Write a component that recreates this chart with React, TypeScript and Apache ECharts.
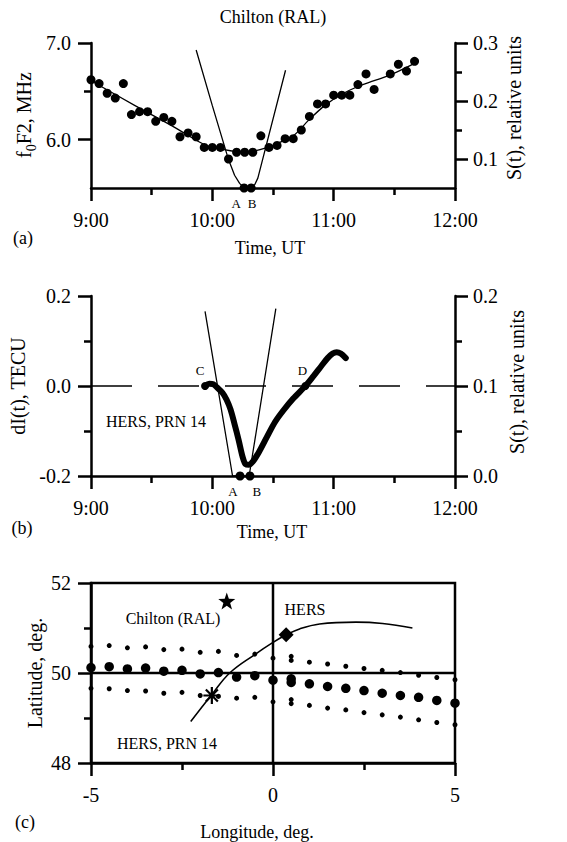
import React, { useEffect, useRef } from "react";
import * as echarts from "echarts";

const FONT = "'Liberation Serif', 'Times New Roman', serif";
const BLACK = "#000";

// ---------- Panel (a): Chilton (RAL) ionosonde; time in minutes after 09:00 UT ----------
const f0F2Minutes = [0, 4, 8, 12, 16, 20, 24, 28, 32, 36, 40, 44, 48, 52, 56, 60, 64, 68, 72, 76, 80, 84, 88, 92, 96, 100, 104, 108, 112, 116, 120, 124, 128, 132, 136, 140, 148, 152, 156, 160];
const f0F2MHz = [6.62, 6.58, 6.48, 6.43, 6.58, 6.26, 6.29, 6.29, 6.19, 6.23, 6.19, 6.03, 6.07, 6.03, 5.92, 5.92, 5.92, 5.8, 5.87, 5.87, 5.87, 6.04, 5.92, 5.94, 6.01, 6.01, 6.1, 6.24, 6.37, 6.37, 6.46, 6.46, 6.46, 6.57, 6.68, 6.52, 6.68, 6.78, 6.71, 6.81];
const f0F2FitMinutes = [0, 22, 42, 56, 65, 76, 84, 92, 100, 108, 116, 124, 132, 140, 148, 160];
const f0F2FitMHz = [6.61, 6.35, 6.12, 5.95, 5.9, 5.87, 5.9, 5.96, 6.04, 6.21, 6.36, 6.47, 6.55, 6.61, 6.67, 6.79];
const sMinutesA = [52, 60, 68, 71, 73.5, 75.7, 79.2, 81, 82.5, 96.2];
const sValuesA = [0.288, 0.192, 0.099, 0.072, 0.058, 0.05, 0.05, 0.056, 0.067, 0.253];
const abMinutesA = [75.7, 79.2];
const abValuesA = [0.05, 0.05];
const abNames = ["A", "B"];

// ---------- Panel (b): HERS, PRN 14 ----------
const dIMinutes = [56.4, 58.5, 60.5, 62.5, 65, 67, 69, 71, 73, 75, 76.5, 78, 80, 83, 87, 91, 95, 100, 106, 110, 114, 117, 119.5, 121.5, 123.5, 126];
const dITECU = [0, 0.005, 0.004, -0.004, -0.015, -0.03, -0.052, -0.085, -0.12, -0.158, -0.174, -0.175, -0.168, -0.147, -0.113, -0.08, -0.055, -0.028, 0, 0.022, 0.045, 0.062, 0.072, 0.075, 0.072, 0.062];
const zeroMinutes = [0, 180];
const zeroValues = [0, 0];
const sMinutesB = [56.4, 70, 78.2, 91.4];
const sValuesB = [0.183, 0, 0, 0.186];
const abMinutesB = [73.7, 78.6];
const abValuesB = [0, 0];
const cdMinutes = [56.4, 106];
const cdValues = [0, 0];
const cdNames = ["C", "D"];

// ---------- Panel (c): map ----------
const rowLon = [-5, -4.5, -4, -3.5, -3, -2.5, -2, -1.5, -1, -0.5, 0, 0.5, 0.5, 1, 1.5, 2, 2.5, 3, 3.5, 4, 4.5, 5];
const upperLat = [50.59, 50.61, 50.56, 50.58, 50.52, 50.53, 50.46, 50.48, 50.39, 50.42, 50.33, 50.37, 50.28, 50.24, 50.2, 50.15, 50.1, 50.06, 50.01, 49.95, 49.9, 49.85];
const middleLat = [50.12, 50.14, 50.09, 50.11, 50.04, 50.06, 49.98, 50.01, 49.91, 49.94, 49.84, 49.87, 49.79, 49.76, 49.7, 49.66, 49.61, 49.55, 49.5, 49.46, 49.39, 49.33];
const lowerLat = [49.66, 49.65, 49.61, 49.6, 49.55, 49.57, 49.5, 49.48, 49.44, 49.46, 49.36, 49.41, 49.32, 49.28, 49.22, 49.18, 49.12, 49.07, 49.02, 48.96, 48.9, 48.85];
const trackLon = [-2.26, -1.68, -1.19, -0.5, 0, 0.34, 0.73, 1.28, 2.28, 3.01, 3.83];
const trackLat = [48.92, 49.52, 50.0, 50.41, 50.68, 50.84, 50.98, 51.09, 51.13, 51.1, 51.0];
const chiltonLonLat = [-1.27, 51.6];
const hersLonLat = [0.36, 50.85];
const pierceLonLat = [-1.68, 49.5];
const meridianLon = [0, 0];
const meridianLat = [48, 52];
const parallelLon = [-5, 5];
const parallelLat = [50, 50];

// ---------- tick labels ----------
const timeTickLabels = ["9:00", "10:00", "11:00", "12:00"];
const f0F2TickValues = [6, 7];
const sTickValuesA = [0.1, 0.2, 0.3];

const zip = (xs: number[], ys: number[]) => xs.map((x, i) => [x, ys[i]]);

function starPath(): string {
  let d = "";
  for (let i = 0; i < 10; i++) {
    const r = i % 2 ? 0.4 : 1;
    const a = -Math.PI / 2 + (i * Math.PI) / 5;
    d += (i ? "L" : "M") + (r * Math.cos(a)).toFixed(3) + " " + (r * Math.sin(a)).toFixed(3) + " ";
  }
  return "path://" + d + "Z";
}

function asteriskPath(): string {
  const w = 0.13;
  let d = "";
  [0, 45, 90, 135].forEach((deg) => {
    const t = (deg * Math.PI) / 180;
    const c = Math.cos(t), s = Math.sin(t);
    const pts = [[-1, -w], [1, -w], [1, w], [-1, w]].map(([x, y]) => [x * c - y * s, x * s + y * c]);
    d += pts.map((p, i) => (i ? "L" : "M") + p[0].toFixed(3) + " " + p[1].toFixed(3)).join(" ") + " Z ";
  });
  return "path://" + d;
}

const axisLine = { show: true, onZero: false, lineStyle: { color: BLACK, width: 2.5 } };
const tick = (len: number) => ({ show: true, length: len, lineStyle: { color: BLACK, width: 2.5 } });
const minor = { show: true, splitNumber: 2, length: 7, lineStyle: { color: BLACK, width: 2.5 } };
const lbl = { color: BLACK, fontSize: 20, fontFamily: FONT };
const noSplit = { show: false };
const dot = { color: BLACK, opacity: 1 };

function timeAxis(gridIndex: number) {
  return {
    type: "value", gridIndex, min: 0, max: 180, interval: 60,
    axisLine, axisTick: tick(13), minorTick: minor,
    splitLine: noSplit, minorSplitLine: noSplit,
    axisLabel: { ...lbl, margin: 22, formatter: (v: number) => timeTickLabels[Math.round(v / 60)] },
  };
}

function text(x: number, y: number, s: string, size: number, rotate = false, extra: any = {}) {
  return {
    type: "text", x, y, rotation: rotate ? Math.PI / 2 : 0, z: 100,
    style: { text: s, fill: BLACK, fontSize: size, fontFamily: FONT, align: "center", verticalAlign: "middle", ...extra },
  };
}

function buildOption(): any {
  return {
    animation: false,
    backgroundColor: "#fff",
    grid: [
      { left: 91, top: 43, width: 364, height: 145 },
      { left: 91, top: 296, width: 364, height: 180 },
      { left: 91, top: 583, width: 364, height: 180, show: true, borderColor: BLACK, borderWidth: 2.5, backgroundColor: "transparent" },
    ],
    xAxis: [
      timeAxis(0),
      timeAxis(1),
      {
        type: "value", gridIndex: 2, min: -5, max: 5, interval: 5,
        axisLine, axisTick: tick(13), minorTick: minor, splitLine: noSplit, minorSplitLine: noSplit,
        axisLabel: { ...lbl, margin: 22 },
      },
    ],
    yAxis: [
      {
        type: "value", gridIndex: 0, position: "left", min: 5.5, max: 7,
        axisLine, axisTick: { ...tick(13), customValues: f0F2TickValues }, splitLine: noSplit,
        axisLabel: { ...lbl, margin: 20, customValues: f0F2TickValues, formatter: (v: number) => v.toFixed(1) },
      },
      {
        type: "value", gridIndex: 0, position: "left", min: 5.5, max: 7,
        axisLine: { show: false }, axisTick: { ...tick(7), customValues: [6.5] }, splitLine: noSplit,
        axisLabel: { show: false },
      },
      {
        type: "value", gridIndex: 0, position: "right", min: 0.05, max: 0.3,
        axisLine, axisTick: { ...tick(13), customValues: sTickValuesA }, splitLine: noSplit,
        axisLabel: { ...lbl, margin: 18, customValues: sTickValuesA, formatter: (v: number) => v.toFixed(1) },
      },
      {
        type: "value", gridIndex: 0, position: "right", min: 0.05, max: 0.3,
        axisLine: { show: false }, axisTick: { ...tick(7), customValues: [0.15, 0.25] }, splitLine: noSplit,
        axisLabel: { show: false },
      },
      {
        type: "value", gridIndex: 1, position: "left", min: -0.2, max: 0.2, interval: 0.2,
        axisLine, axisTick: tick(13), minorTick: minor, splitLine: noSplit, minorSplitLine: noSplit,
        axisLabel: { ...lbl, margin: 20, formatter: (v: number) => v.toFixed(1) },
      },
      {
        type: "value", gridIndex: 1, position: "right", min: 0, max: 0.2, interval: 0.1,
        axisLine, axisTick: tick(13), minorTick: minor, splitLine: noSplit, minorSplitLine: noSplit,
        axisLabel: { ...lbl, margin: 18, formatter: (v: number) => v.toFixed(1) },
      },
      {
        type: "value", gridIndex: 2, position: "left", min: 48, max: 52, interval: 2,
        axisLine, axisTick: tick(13), minorTick: minor, splitLine: noSplit, minorSplitLine: noSplit,
        axisLabel: { ...lbl, margin: 20 },
      },
    ],
    series: [
      // ----- (a)
      {
        type: "line", xAxisIndex: 0, yAxisIndex: 0, data: zip(f0F2FitMinutes, f0F2FitMHz),
        showSymbol: false, smooth: 0.35, lineStyle: { color: BLACK, width: 1.3 },
      },
      {
        type: "line", xAxisIndex: 0, yAxisIndex: 2, data: zip(sMinutesA, sValuesA),
        showSymbol: false, lineStyle: { color: BLACK, width: 1.3 },
      },
      {
        type: "scatter", xAxisIndex: 0, yAxisIndex: 0, data: zip(f0F2Minutes, f0F2MHz),
        symbolSize: 9, itemStyle: dot,
      },
      {
        type: "scatter", xAxisIndex: 0, yAxisIndex: 2, clip: false, symbolSize: 9, itemStyle: dot,
        data: abMinutesA.map((m, i) => ({
          value: [m, abValuesA[i]], name: abNames[i],
          label: { offset: [i === 0 ? -8 : 1, 0] },
        })),
        label: { show: true, position: "bottom", distance: 4, formatter: "{b}", color: BLACK, fontSize: 13, fontFamily: FONT },
      },
      // ----- (b)
      {
        type: "line", xAxisIndex: 1, yAxisIndex: 4, data: zip(zeroMinutes, zeroValues),
        showSymbol: false, lineStyle: { color: BLACK, width: 1.3, type: [41, 26] },
      },
      {
        type: "line", xAxisIndex: 1, yAxisIndex: 5, data: zip(sMinutesB, sValuesB),
        showSymbol: false, lineStyle: { color: BLACK, width: 1.3 },
      },
      {
        type: "line", xAxisIndex: 1, yAxisIndex: 4, data: zip(dIMinutes, dITECU),
        showSymbol: false, smooth: 0.3, lineStyle: { color: BLACK, width: 6, cap: "round", join: "round" },
      },
      {
        type: "scatter", xAxisIndex: 1, yAxisIndex: 4, symbolSize: 8, itemStyle: dot,
        data: cdMinutes.map((m, i) => ({
          value: [m, cdValues[i]], name: cdNames[i],
          label: { offset: [i === 0 ? -5 : -3, 0] },
        })),
        label: { show: true, position: "top", distance: 5, formatter: "{b}", color: BLACK, fontSize: 13, fontFamily: FONT },
      },
      {
        type: "scatter", xAxisIndex: 1, yAxisIndex: 5, clip: false, symbolSize: 9, itemStyle: dot,
        data: abMinutesB.map((m, i) => ({
          value: [m, abValuesB[i]], name: abNames[i],
          label: { offset: [i === 0 ? -7 : 7, 0] },
        })),
        label: { show: true, position: "bottom", distance: 4, formatter: "{b}", color: BLACK, fontSize: 13, fontFamily: FONT },
      },
      // ----- (c)
      {
        type: "line", xAxisIndex: 2, yAxisIndex: 6, data: zip(meridianLon, meridianLat),
        showSymbol: false, lineStyle: { color: BLACK, width: 2.5 },
      },
      {
        type: "line", xAxisIndex: 2, yAxisIndex: 6, data: zip(parallelLon, parallelLat),
        showSymbol: false, lineStyle: { color: BLACK, width: 2.5 },
      },
      {
        type: "scatter", xAxisIndex: 2, yAxisIndex: 6, clip: false, data: zip(rowLon, upperLat),
        symbolSize: 5, itemStyle: dot,
      },
      {
        type: "scatter", xAxisIndex: 2, yAxisIndex: 6, clip: false, data: zip(rowLon, middleLat),
        symbolSize: 9.5, itemStyle: dot,
      },
      {
        type: "scatter", xAxisIndex: 2, yAxisIndex: 6, clip: false, data: zip(rowLon, lowerLat),
        symbolSize: 5, itemStyle: dot,
      },
      {
        type: "line", xAxisIndex: 2, yAxisIndex: 6, data: zip(trackLon, trackLat),
        showSymbol: false, smooth: 0.4, lineStyle: { color: BLACK, width: 1.6 },
      },
      {
        type: "scatter", xAxisIndex: 2, yAxisIndex: 6, data: [chiltonLonLat],
        symbol: starPath(), symbolSize: 17, itemStyle: dot,
      },
      {
        type: "scatter", xAxisIndex: 2, yAxisIndex: 6, data: [hersLonLat],
        symbol: "diamond", symbolSize: 15, itemStyle: dot,
      },
      {
        type: "scatter", xAxisIndex: 2, yAxisIndex: 6, data: [pierceLonLat],
        symbol: asteriskPath(), symbolSize: 17, itemStyle: dot,
      },
    ],
    graphic: [
      text(273, 17, "Chilton (RAL)", 18),
      text(23, 238, "(a)", 18),
      text(22, 528, "(b)", 18),
      text(25, 822, "(c)", 18),
      text(270, 248, "Time, UT", 18),
      text(272, 532, "Time, UT", 18),
      text(257, 832, "Longitude, deg.", 18),
      {
        type: "text", x: 26, y: 115, rotation: Math.PI / 2, z: 100,
        style: {
          text: "{a|f}{s|0}{a|F2, MHz}", fill: BLACK, align: "center", verticalAlign: "middle",
          rich: {
            a: { fontSize: 20, fontFamily: FONT, lineHeight: 20, verticalAlign: "top" },
            s: { fontSize: 14, fontFamily: FONT, lineHeight: 25, verticalAlign: "bottom" },
          },
        },
      },
      text(18, 386, "dI(t), TECU", 20, true),
      text(35, 673, "Latitude, deg.", 20, true),
      text(514, 108, "S(t), relative units", 20, true),
      text(517, 382, "S(t), relative units", 20, true),
      text(156, 421, "HERS, PRN 14", 16),
      text(167, 743, "HERS, PRN 14", 16),
      text(173, 618, "Chilton (RAL)", 16),
      text(305, 609, "HERS", 16),
    ],
  };
}

export default function App() {
  const ref = useRef<HTMLDivElement>(null);
  useEffect(() => {
    if (!ref.current) return;
    const chart = echarts.init(ref.current, null, { renderer: "svg" });
    chart.setOption(buildOption());
    return () => chart.dispose();
  }, []);
  return (
    <div
      ref={ref}
      style={{ position: "fixed", left: 0, top: 0, width: 567, height: 842, background: "#fff" }}
    />
  );
}
